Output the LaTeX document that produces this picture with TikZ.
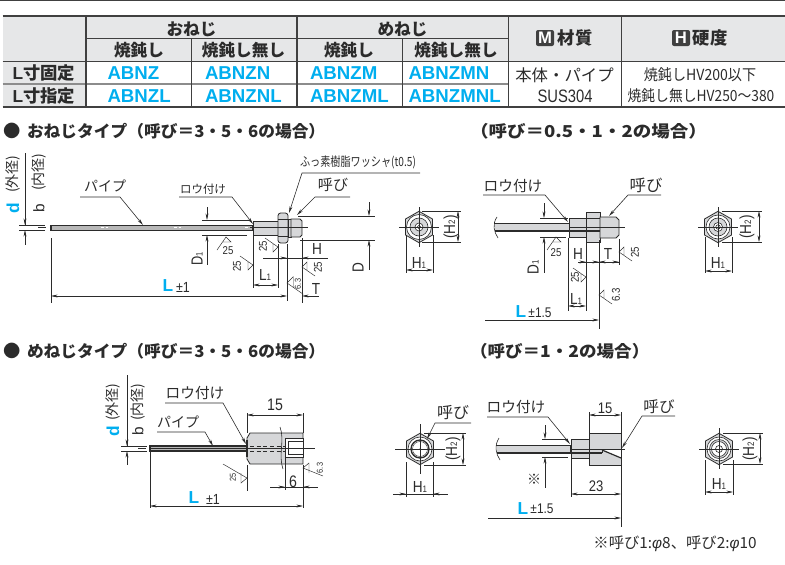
\documentclass[tikz,border=0pt]{standalone}
\usepackage{fontspec}
\usepackage{graphicx}
\usetikzlibrary{arrows.meta}
\setmainfont{Liberation Sans}
\newfontfamily\jp{Noto Sans CJK JP}
\definecolor{ink}{HTML}{2B2B2B}
\definecolor{hdr}{HTML}{E6E7E8}
\definecolor{cy}{HTML}{00AEEF}
\definecolor{mt}{HTML}{D6D7D9}
\definecolor{dk}{HTML}{404040}
\newcommand\fs[1]{\fontsize{#1}{#1}\selectfont}
\newcommand\cond[2]{\scalebox{#1}[1]{#2}}
\newcommand\sbs[1]{{\fs{7}#1}}
\newcommand\flp{\symbol{"FF08}}
\newcommand\frp{\symbol{"FF09}}
\newcommand\feq{\symbol{"FF1D}}
\newcommand\rs[4][1]{\draw[rsline,shift={(#2,#3)},rotate=#4,scale=#1] (-9,13)--(0,0)--(5,5)--(-3.5,5);}
% hexagon end view: cx cy
\newcommand\hexa[2]{\draw[part,shift={(#1,#2)}] (0,-15.7)--(13.5,-8)--(13.5,8)--(0,15.7)--(-13.5,8)--(-13.5,-8)--cycle;}
\tikzset{
  >={Stealth[length=5pt,width=2.2pt]},
  every node/.style={inner sep=0pt,outer sep=0pt,text=ink},
  dimline/.style={draw=ink,line width=.35pt},
  lead/.style={draw=ink,line width=.45pt},
  part/.style={draw=ink,line width=.6pt,fill=mt},
  tube/.style={draw=ink,line width=.9pt,fill=black!28},
  plain/.style={draw=ink,line width=.45pt},
  rsline/.style={draw=ink,line width=.35pt},
  ctr/.style={draw=ink,line width=.35pt},
  hlab/.style={font=\jp\bfseries\fs{12.3}},
  tbh/.style={font=\jp\bfseries\fs{12.5}},
  dlab/.style={font=\fs{12}},
  rlab/.style={font=\fs{6.5},rotate=90},
  rlabh/.style={font=\fs{6.5}},
  cyl/.style={font=\bfseries\fs{14},text=cy,anchor=west},
  grid1/.style={draw=dk,line width=1.1pt},
  grid2/.style={draw=dk,line width=.5pt},
  grid3/.style={draw=black!45,line width=1pt},
}
\begin{document}
\begin{tikzpicture}[x=.75pt,y=-.75pt]
\useasboundingbox (0,0) rectangle (785,564);
% ---------------- table
\draw[dk,line width=1.2pt] (0,.5)--(785,.5);
\fill[hdr] (2.5,16) rectangle (785,61);
\fill[hdr] (2.5,61) rectangle (86,107);
\draw[grid3] (2.5,84)--(508.5,84);
\draw[grid1] (2.5,16)--(785,16);
\draw[grid1] (2.5,107)--(785,107);
\draw[grid1] (2.5,61.5)--(785,61.5);
\draw[grid2] (86,38)--(508.5,38);
\foreach \x in {86,297,508.5,621.5} \draw[grid1,line width=.9pt] (\x,16)--(\x,107);
\foreach \x in {191.5,402.5} \draw[grid2] (\x,38)--(\x,107);
\node[tbh] (c1) at (191.5,29) {おねじ};
\node[tbh] (c2) at (402.5,29) {めねじ};
\node[tbh] (c3) at (139,50) {焼鈍し};
\node[tbh] (c4) at (243.5,50) {焼鈍し無し};
\node[tbh] (c5) at (349,50) {焼鈍し};
\node[tbh] (c6) at (456,50) {焼鈍し無し};
\fill[dk,rounded corners=1.5pt] (536,30) rectangle (554,46);
\node[font=\bfseries\fs{12.5},text=white] (mi) at (545,38) {M};
\node[tbh,font=\jp\bfseries\fs{13}] (c7) at (575,38) {材質};
\fill[dk,rounded corners=1.5pt] (672,30) rectangle (690,46);
\node[font=\bfseries\fs{12.5},text=white] (hi) at (681,38) {H};
\node[tbh,font=\jp\bfseries\fs{13}] (c8) at (710,38) {硬度};
\node[tbh,font=\jp\bfseries\fs{13}] (r1) at (44,73) {{\rmfamily L}寸固定};
\node[tbh,font=\jp\bfseries\fs{13}] (r2) at (44,96) {{\rmfamily L}寸指定};
\node[cyl] (a1) at (107.5,73) {ABNZ};
\node[cyl] (a2) at (205,73) {ABNZN};
\node[cyl] (a3) at (310,73) {ABNZM};
\node[cyl] (a4) at (408.5,73) {ABNZMN};
\node[cyl] (a5) at (107.5,96) {ABNZL};
\node[cyl] (a6) at (205,96) {ABNZNL};
\node[cyl] (a7) at (310,96) {ABNZML};
\node[cyl] (a8) at (408.5,96) {ABNZMNL};
\node[font=\jp\fs{12.3}] (v1) at (564.5,75) {本体・パイプ};
\node[font=\fs{13.5}] (v2) at (565,96) {\cond{.82}{SUS304}};
\node[font=\jp\fs{11.5}] (v3) at (700,75) {\cond{.92}{焼鈍しHV200以下}};
\node[font=\jp\fs{11.5}] (v4) at (701,96) {\cond{.9}{焼鈍し無しHV250〜380}};
% ---------------- headings
\node[hlab,font=\jp\bfseries\fs{13}] (b1) at (12,131) {●};
\node[hlab,anchor=west] (h1) at (27,131) {\cond{1.02}{おねじタイプ\flp 呼び\feq 3・5・6の場合\frp}};
\node[hlab,anchor=west] (h2) at (470,131) {\cond{1.13}{\flp 呼び\feq 0.5・1・2の場合\frp}};
\node[hlab,font=\jp\bfseries\fs{13}] (b3) at (12,351) {●};
\node[hlab,anchor=west] (h3) at (27,351) {\cond{1.02}{めねじタイプ\flp 呼び\feq 3・5・6の場合\frp}};
\node[hlab,anchor=west] (h4) at (470,351) {\cond{1.07}{\flp 呼び\feq 1・2の場合\frp}};

% ================ figure 1: male, 3-5-6
\draw[dimline] (19,225)--(45,225) (19,230)--(45,230);
\draw[dimline] (25,153)--(25,225);
\draw[dimline,<-] (25,225)--(25,215);
\draw[dimline,<-] (25,230)--(25,245);
\draw[ctr] (38,227.7)--(46,227.7);
\node[font=\bfseries\fs{13},text=cy,rotate=90] (f1d) at (13,208) {d};
\node[font=\jp\fs{10.5},rotate=90] (f1o) at (13,174) {(外径)};
\node[font=\fs{11.5},rotate=90] (f1b) at (39,208) {b};
\node[font=\jp\fs{10.5},rotate=90] (f1i) at (39,172) {(内径)};
\draw[tube] (51,225.3) rectangle (253,230.3);
\draw[white,line width=.7pt,dash pattern=on 2pt off 1.5pt] (101,227.8)--(110,227.8) (174,227.8)--(183,227.8) (245,227.8)--(252,227.8);
\draw[part] (253,221) rectangle (278,235);
\draw[part,rounded corners=2pt] (278,213) rectangle (288,243);
\draw[plain] (278,219)--(288,219) (278,236)--(288,236);
\draw[part] (288,219) rectangle (291,237);
\draw[part] (291,219) -- (300,219) -- (302,221) -- (302,235) -- (300,237) -- (291,237) -- cycle;
\draw[ctr] (250,227.7)--(308,227.7);
% D1
\draw[dimline] (202,220)--(250,220) (202,235)--(247,235);
\draw[dimline,<-] (207,220)--(207,207);
\draw[dimline,<-] (207,235)--(207,265);
\node[dlab,rotate=90] (f1d1) at (197,259) {\cond{.8}{D\sbs{1}}};
% D
\draw[dimline] (298,216)--(375,216) (300,240)--(375,240);
\draw[dimline,<-] (369,216)--(369,202);
\draw[dimline,<-] (369,240)--(369,270);
\node[dlab,rotate=90] (f1dd) at (358,268) {\cond{.85}{D}};
% extension
\draw[dimline] (253,236)--(253,288) (278,244)--(278,288) (287,244)--(287,301) (302,238)--(302,303);
\draw[dimline] (51,238)--(51,303);
% H
\draw[dimline] (263,258)--(328,258);
\draw[dimline,<-] (287,258)--(272,258);
\draw[dimline,<-] (302,258)--(318,258);
\node[dlab] (f1h) at (317,249) {\cond{.85}{H}};
% L1
\draw[dimline,<->] (253,285)--(278,285);
\node[dlab] (f1l1) at (265,275) {\cond{.85}{L\sbs{1}}};
% T + L
\draw[dimline,<->] (51,296)--(287,296);
\draw[dimline,<-] (302,296)--(319,296);
\node[dlab] (f1t) at (316,289) {\cond{.85}{T}};
\node[font=\bfseries\fs{13},text=cy] (f1L) at (168,286) {L};
\node[font=\fs{11}] (f1pm) at (183,287) {\cond{.85}{±1}};
% leaders
\node[font=\jp\fs{10.5}] (f1p) at (105,186) {パイプ};
\coordinate (f1pa) at (80,197); \coordinate (f1pb) at (120,197); \coordinate (f1pc) at (143,225);
\draw[lead,->] (f1pa)--(f1pb)--(f1pc);
\node[font=\jp\fs{8.6}] (f1r) at (203,189) {ロウ付け};
\coordinate (f1ra) at (179,197); \coordinate (f1rb) at (232,197); \coordinate (f1rc) at (253,224);
\draw[lead,->] (f1ra)--(f1rb)--(f1rc);
\node[font=\jp\fs{9.5}] (f1w) at (358,162) {\cond{.8}{ふっ素樹脂ワッシャ(t0.5)}};
\coordinate (f1wa) at (420,173); \coordinate (f1wb) at (302,173); \coordinate (f1wc) at (289,213);
\draw[lead,->] (f1wa)--(f1wb)--(f1wc);
\node[font=\jp\fs{11.3}] (f1y) at (333,185) {呼び};
\coordinate (f1ya) at (350,197); \coordinate (f1yb) at (315,197); \coordinate (f1yc) at (297,215);
\draw[lead,->] (f1ya)--(f1yb)--(f1yc);
% roughness
\rs{226}{237}{0}
\node[rlabh] (f1s1) at (228,251) {\fs{8.5}\cond{.85}{25}};
\rs{253}{265}{-90}
\node[rlab] (f1s2) at (237,266) {\fs{8.5}\cond{.85}{25}};
\rs{278}{247}{-90}
\node[rlab] (f1s3) at (263,246) {\fs{8.5}\cond{.85}{25}};
\rs{302}{267}{90}
\node[rlab] (f1s4) at (318,267) {\fs{8.5}\cond{.85}{25}};
\rs[1.25]{287}{283}{90}
\node[rlab] (f1s5) at (298,284) {\fs{6.5}\cond{.85}{6.3}};
% hex view 1
\hexa{419}{227}
\draw[plain,fill=white] (419,227) circle (12.5);
\draw[plain,fill=mt] (419,227) circle (9);
\draw[plain,fill=white] (419,227) circle (4);
\draw[plain] (419,227) circle (1.8);
\draw[ctr] (399,227)--(439,227) (419,207)--(419,247);
\draw[dimline] (422,211)--(461,211) (422,242)--(461,242);
\draw[dimline,<->] (458,211)--(458,242);
\node[dlab,rotate=90] (f1h2) at (451,227) {\cond{.85}{(H\sbs{2})}};
\draw[dimline] (406,235)--(406,273) (433,235)--(433,273);
\draw[dimline,<->] (406,270)--(433,270);
\node[dlab] (f1h1) at (419,263) {\cond{.85}{H\sbs{1}}};

% ================ figure 2: male, small
\fill[mt] (495,223) rectangle (569,231);
\draw[plain] (494,223)--(569,223);
\draw[ink,line width=1.1pt] (495,231)--(600,231);
\draw[plain] (497,217) .. controls (492,224) and (494,232) .. (498,238);
\draw[part] (569,218) rectangle (586,237);
\draw[part] (586,212) rectangle (600,242);
\draw[plain] (586,218)--(600,218);
\draw[part] (600,217) -- (616,217) -- (619,220) -- (619,235) -- (616,238) -- (600,238) -- cycle;
\draw[ink,line width=1.1pt] (569,231)--(600,231);
\draw[ctr] (569,227)--(625,227);
\node[font=\jp\fs{11}] (f2r) at (513,186) {ロウ付け};
\coordinate (f2ra) at (483,195); \coordinate (f2rb) at (545,195); \coordinate (f2rc) at (568,222);
\draw[lead,->] (f2ra)--(f2rb)--(f2rc);
\node[font=\jp\fs{12.3}] (f2y) at (646,185) {呼び};
\coordinate (f2ya) at (661,195); \coordinate (f2yb) at (628,195); \coordinate (f2yc) at (609,216);
\draw[lead,->] (f2ya)--(f2yb)--(f2yc);
\draw[dimline] (540,218)--(568,218) (540,237)--(566,237);
\draw[dimline,<-] (544,218)--(544,203);
\draw[dimline,<-] (544,237)--(544,273);
\node[dlab,rotate=90] (f2d1) at (533,267) {\cond{.85}{D\sbs{1}}};
\rs{556}{237}{0}
\node[rlabh] (f2s1) at (556,253) {\fs{8.5}\cond{.85}{25}};
\draw[dimline] (568,238)--(568,311) (586,243)--(586,311) (599,240)--(599,329) (619,239)--(619,265);
\draw[dimline] (578,262)--(619,262);
\draw[dimline,<-] (586,262)--(578,262);
\draw[dimline,<-] (599,262)--(592,262);
\draw[dimline,<-] (599,262)--(606,262);
\draw[dimline,<-] (619,262)--(610,262);
\node[dlab] (f2h) at (578,254) {\cond{.85}{H}};
\node[dlab] (f2t) at (608,254) {\cond{.85}{T}};
\rs{619}{252}{90}
\node[rlab] (f2s2) at (635,252) {\fs{8.5}\cond{.85}{25}};
\rs{586}{277}{-90}
\node[rlab] (f2s3) at (575,277) {\fs{8.5}\cond{.85}{25}};
\draw[dimline,<->] (568,306)--(586,306);
\node[dlab] (f2l1) at (576,299) {\cond{.85}{L\sbs{1}}};
\rs{599}{295}{90}
\node[rlab] (f2s4) at (616,295) {\fs{8.5}\cond{.85}{6.3}};
\draw[dimline,->] (485,320)--(599,320);
\node[font=\bfseries\fs{13},text=cy] (f2L) at (521,312) {L};
\node[font=\fs{10.5}] (f2pm) at (540,313) {\cond{.85}{±1.5}};
% hex view 2
\hexa{718}{227}
\draw[plain,fill=white] (718,227) circle (12);
\draw[plain,fill=mt] (718,227) circle (9);
\draw[plain,fill=white] (718,227) circle (4.5);
\draw[plain] (718,227) circle (2.2);
\draw[ctr] (698,227)--(738,227) (718,207)--(718,247);
\draw[dimline] (722,211)--(762,211) (722,242)--(762,242);
\draw[dimline,<->] (759,211)--(759,242);
\node[dlab,rotate=90] (f2h2) at (747,227) {\cond{.85}{(H\sbs{2})}};
\draw[dimline] (705,237)--(705,273) (732,237)--(732,273);
\draw[dimline,<->] (705,271)--(732,271);
\node[dlab] (f2h1) at (718,263) {\cond{.85}{H\sbs{1}}};

% ================ figure 3: female, 3-5-6
\draw[dimline] (121,446)--(147,446) (121,451)--(147,451);
\draw[dimline] (127,375)--(127,446);
\draw[dimline,<-] (127,446)--(127,436);
\draw[dimline,<-] (127,451)--(127,465);
\node[font=\bfseries\fs{13},text=cy,rotate=90] (f3d) at (113,431) {d};
\node[font=\jp\fs{10.5},rotate=90] (f3o) at (113,402) {(外径)};
\node[font=\fs{11.5},rotate=90] (f3b) at (138,431) {b};
\node[font=\jp\fs{10.5},rotate=90] (f3i) at (138,402) {(内径)};
\draw[tube] (150,446) rectangle (247,451);
\draw[white,line width=.7pt,dash pattern=on 3pt off 2pt] (158,448.5)--(168,448.5) (205,448.5)--(216,448.5);
\draw[part] (247,438)--(250,433)--(303,433)--(303,464)--(250,464)--(247,459)--cycle;
\draw[ink,line width=1.2pt] (247,440)--(247,457);
\draw[ink,line width=.5pt,dash pattern=on 3pt off 2pt] (250,446)--(285,446) (250,451)--(285,451);
\draw[plain,fill=white] (285,438) rectangle (303,457);
\draw[plain] (288,441) rectangle (303,454);
\draw[plain] (280,427) .. controls (285,440) and (278,455) .. (283,469);
\draw[ctr] (138,448.5)--(146,448.5) (150,448.5)--(315,448.5);
\draw[dimline] (247,433)--(247,413) (303,433)--(303,413);
\draw[dimline,<->] (247,415)--(303,415);
\node[font=\fs{12.5}] (f3n15) at (275,405) {\cond{.85}{15}};
\draw[dimline] (270,487)--(318,487);
\draw[dimline,<-] (285,487)--(273,487);
\draw[dimline,<-] (303,487)--(315,487);
\draw[dimline] (285,458)--(285,490) (303,465)--(303,508) (247,465)--(247,491) (150,452)--(150,508);
\node[font=\fs{12.5}] (f3n6) at (293,482) {\cond{.85}{6}};
\draw[dimline,<->] (150,506)--(303,506);
\node[font=\bfseries\fs{13},text=cy] (f3L) at (194,498) {L};
\node[font=\fs{11}] (f3pm) at (213,499) {\cond{.85}{±1}};
\draw[rsline] (223,464)--(247,478)--(241,483)--(241,473);
\node[rlab] (f3s1) at (233,477) {\fs{6.5}\cond{.85}{25}};
\draw[rsline] (323,476)--(303,468)--(309,463)--(309,473);
\node[rlab] (f3s2) at (320,468) {\fs{6.5}\cond{.85}{6.3}};
\node[font=\jp\fs{10.5}] (f3p) at (178,422) {パイプ};
\coordinate (f3pa) at (157,432); \coordinate (f3pb) at (205,432); \coordinate (f3pc) at (213,446);
\draw[lead,->] (f3pa)--(f3pb)--(f3pc);
\node[font=\jp\fs{11}] (f3r) at (195,393) {ロウ付け};
\coordinate (f3ra) at (165,403); \coordinate (f3rb) at (223,403); \coordinate (f3rc) at (246,444);
\draw[lead,->] (f3ra)--(f3rb)--(f3rc);
% hex view 3
\hexa{420}{449}
\draw[plain,fill=white] (420,449) circle (12);
\draw[ink,line width=1pt] (420,449) circle (9);
\draw[ink,line width=.3pt] (420,449) circle (7.5);
\fill[ink] (420,449) circle (.6);
\draw[ctr] (395,449)--(445,449) (420,424)--(420,474);
\draw[dimline] (424,433)--(466,433) (424,465)--(466,465);
\draw[dimline,<->] (463,433)--(463,465);
\node[dlab,rotate=90] (f3h2) at (453,449) {\cond{.85}{(H\sbs{2})}};
\draw[dimline] (406,462)--(406,497) (433,462)--(433,497);
\draw[dimline] (393,494)--(448,494);
\draw[dimline,<-] (406,494)--(395,494);
\draw[dimline,<-] (433,494)--(446,494);
\node[dlab] (f3h1) at (420,487) {\cond{.85}{H\sbs{1}}};
\node[font=\jp\fs{12}] (f3y) at (453,413) {呼び};
\coordinate (f3ya) at (471,423); \coordinate (f3yb) at (435,423); \coordinate (f3yc) at (427,439);
\draw[lead,->] (f3ya)--(f3yb)--(f3yc);

% ================ figure 4: female, small
\fill[mt] (497,445) rectangle (571,453);
\draw[plain] (496,445)--(571,445);
\draw[ink,line width=1.1pt] (497,453)--(602,453);
\draw[plain] (499,438) .. controls (494,446) and (496,454) .. (500,460);
\draw[part] (571,439) rectangle (589,458);
\draw[part] (589,433) rectangle (621,465);
\fill[white] (602,449) -- (621,449) -- (621,458.5) -- cycle;
\draw[ink,line width=1.1pt] (571,453)--(602,453);
\draw[ink,line width=.9pt] (602,450)--(621,458);
\draw[plain] (602,449)--(602,453);
\draw[ink,line width=1.1pt] (571,445)--(571,453);
\draw[ctr] (571,449)--(625,449);
\node[font=\jp\fs{11}] (f4r) at (516,407) {ロウ付け};
\coordinate (f4ra) at (487,417); \coordinate (f4rb) at (548,417); \coordinate (f4rc) at (570,444);
\draw[lead,->] (f4ra)--(f4rb)--(f4rc);
\draw[dimline] (589,433)--(589,412) (621,412)--(621,527) (571,459)--(571,497);
\draw[dimline,<->] (589,415)--(621,415);
\node[font=\fs{11.5}] (f4n15) at (605,408) {\cond{.85}{15}};
\node[font=\jp\fs{11.7}] (f4y) at (659,407) {呼び};
\coordinate (f4ya) at (675,416); \coordinate (f4yb) at (642,416); \coordinate (f4yc) at (622,448);
\draw[lead,->] (f4ya)--(f4yb)--(f4yc);
\draw[dimline] (542,439)--(568,439) (542,457)--(568,457);
\draw[dimline,<-] (545,439)--(545,425);
\draw[dimline,<-] (545,457)--(545,488);
\node[font=\jp\fs{10.5}] (f4m) at (534,479) {※};
\draw[dimline,<->] (571,494)--(621,494);
\node[font=\fs{11.5}] (f4n23) at (596,486) {\cond{.85}{23}};
\draw[dimline,->] (488,518)--(621,518);
\node[font=\bfseries\fs{13},text=cy] (f4L) at (523,509) {L};
\node[font=\fs{10.5}] (f4pm) at (542,509) {\cond{.85}{±1.5}};
% hex view 4
\hexa{719}{449}
\draw[plain,fill=white] (719,449) circle (12);
\draw[plain,fill=mt] (719,449) circle (9.5);
\draw[plain,fill=white] (719,449) circle (7.5);
\draw[plain,fill=white] (719,449) circle (3.5);
\draw[ctr] (699,449)--(739,449) (719,428)--(719,469);
\draw[dimline] (723,433)--(763,433) (723,464)--(763,464);
\draw[dimline,<->] (760,433)--(760,464);
\node[dlab,rotate=90] (f4h2) at (750,449) {\cond{.85}{(H\sbs{2})}};
\draw[dimline] (705,460)--(705,495) (733,460)--(733,495);
\draw[dimline,<->] (705,492)--(733,492);
\node[dlab] (f4h1) at (719,484) {\cond{.85}{H\sbs{1}}};
\node[font=\jp\fs{11.5}] (note) at (675,544) {※呼び1:{\itshape\rmfamily φ}8、呼び2:{\itshape\rmfamily φ}10};
\end{tikzpicture}
\end{document}
